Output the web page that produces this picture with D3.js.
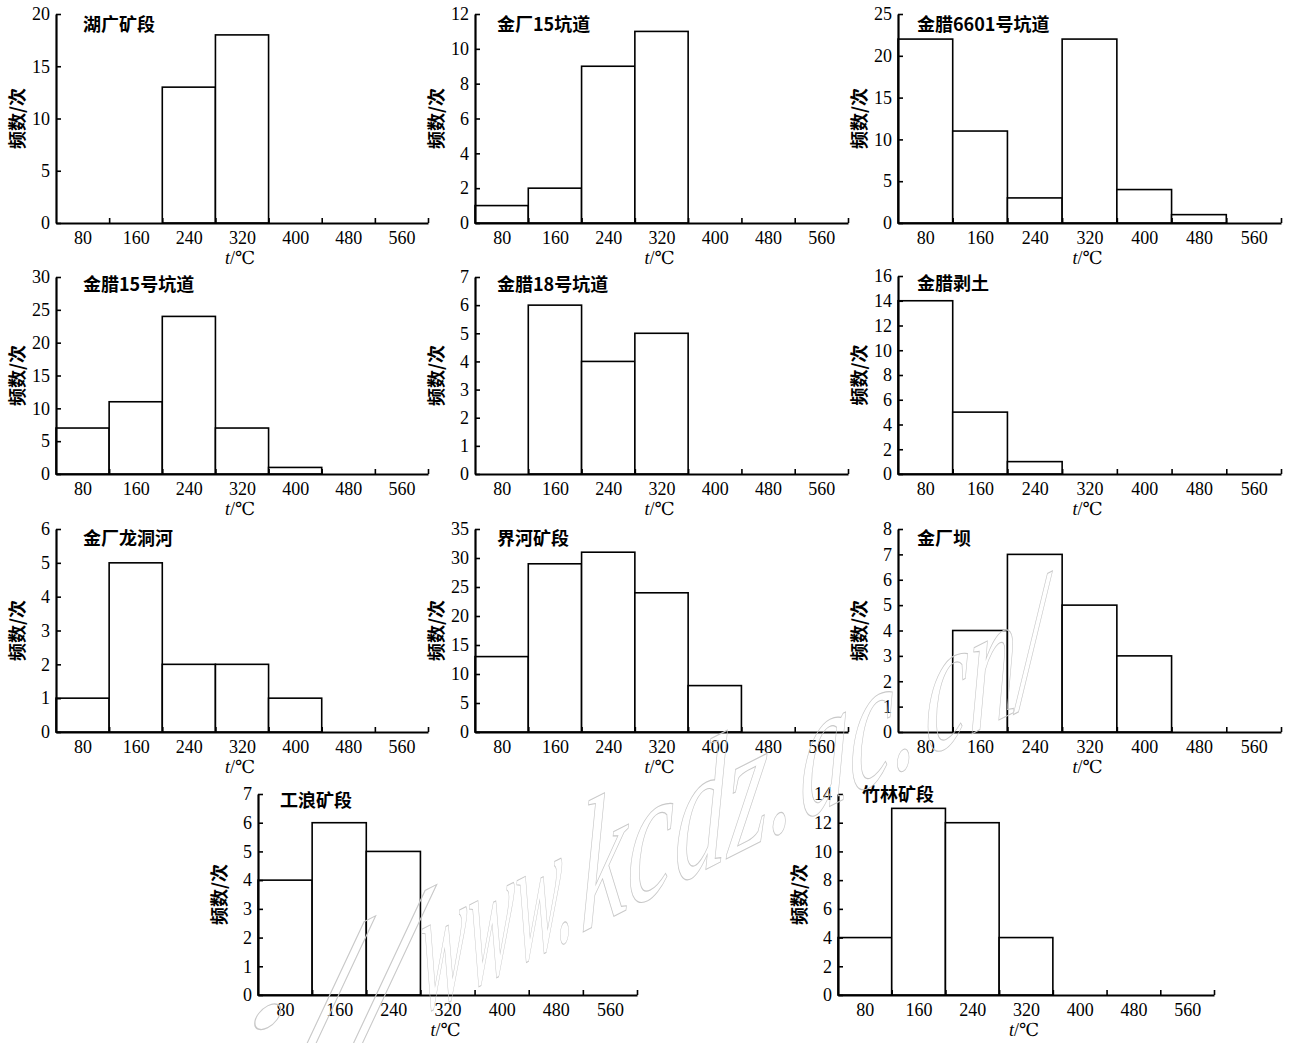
<!DOCTYPE html>
<html>
<head>
<meta charset="utf-8">
<script src="https://cdn.jsdelivr.net/npm/d3@7/dist/d3.min.js"></script>
<style>
  html, body { margin: 0; padding: 0; background: #fff; }
  svg { display: block; }
  .serif, .tick text { font-family: "Liberation Serif", "Times New Roman", "DejaVu Serif", "Noto Serif", serif !important; }
  .tick text { font-size: 18px !important; fill: #000; }
  .cjk { font-family: "Noto Sans CJK SC", "Noto Sans", sans-serif; font-weight: bold; }
</style>
</head>
<body>
<svg id="chart" width="1291" height="1043"></svg>
<script>
// ---------- data ----------
const binLabels = [80, 160, 240, 320, 400, 480, 560];   // bin centres (°C), bins 80 wide
const titles = ["湖广矿段", "金厂15坑道", "金腊6601号坑道", "金腊15号坑道", "金腊18号坑道",
                "金腊剥土", "金厂龙洞河", "界河矿段", "金厂坝", "工浪矿段", "竹林矿段"];
const yMaxes = [20, 12, 25, 30, 7, 16, 6, 35, 8, 7, 14];
const ySteps = [5, 2, 5, 5, 1, 2, 1, 5, 1, 1, 2];

const huguang     = [0, 0, 13, 18, 0, 0, 0];
const jinchang15  = [1, 2, 9, 11, 0, 0, 0];
const jinla6601   = [22, 11, 3, 22, 4, 1, 0];
const jinla15     = [7, 11, 24, 7, 1, 0, 0];
const jinla18     = [0, 6, 4, 5, 0, 0, 0];
const jinlaBotu   = [14, 5, 1, 0, 0, 0, 0];
const longdonghe  = [1, 5, 2, 2, 1, 0, 0];
const jiehe       = [13, 29, 31, 24, 8, 0, 0];
const jinchangba  = [0, 4, 7, 5, 3, 0, 0];
const gonglang    = [4, 6, 5, 0, 0, 0, 0];
const zhulin      = [4, 13, 12, 4, 0, 0, 0];
const seriesList = [huguang, jinchang15, jinla6601, jinla15, jinla18, jinlaBotu,
                    longdonghe, jiehe, jinchangba, gonglang, zhulin];

// watermark text pieces
const watermarkParts = ["://", "www.", "kcdz.", "ac.", "cn/"];

// ---------- layout (pixel frames of each panel) ----------
const frames = [
  {x0: 56,  x1: 428,  top: 14,  bottom: 223, td: 17},
  {x0: 475, x1: 848,  top: 14,  bottom: 223, td: 17},
  {x0: 898, x1: 1281, top: 14,  bottom: 223, td: 17},
  {x0: 56,  x1: 428,  top: 277, bottom: 474, td: 14},
  {x0: 475, x1: 848,  top: 277, bottom: 474, td: 14},
  {x0: 898, x1: 1281, top: 276, bottom: 474, td: 14},
  {x0: 56,  x1: 428,  top: 529, bottom: 732, td: 16},
  {x0: 475, x1: 848,  top: 529, bottom: 732, td: 16},
  {x0: 898, x1: 1281, top: 529, bottom: 732, td: 16},
  {x0: 258, x1: 637,  top: 794, bottom: 995, td: 13},
  {x0: 838, x1: 1214, top: 794, bottom: 995, td: 7}
];
const titleDx = [27, 22, 19, 27, 22, 19, 27, 22, 19, 22, 24];
const wmSpans = [[225, 195], [420, 155], [580, 215], [800, 118], [925, 120]];

const svg = d3.select("#chart");

seriesList.forEach((vals, i) => {
  const f = frames[i];
  const g = svg.append("g");
  const x = d3.scaleLinear().domain([40, 600]).range([f.x0, f.x1]);
  const y = d3.scaleLinear().domain([0, yMaxes[i]]).range([f.bottom, f.top]);

  // bars
  g.selectAll("rect").data(binLabels.map((c, j) => ({c, v: vals[j]})).filter(d => d.v > 0))
    .enter().append("rect")
    .attr("x", d => x(d.c - 40))
    .attr("width", d => x(d.c + 40) - x(d.c - 40))
    .attr("y", d => y(d.v))
    .attr("height", d => y(0) - y(d.v))
    .attr("fill", "#fff").attr("stroke", "#000").attr("stroke-width", 1.6);

  // x boundary ticks (inward)
  const xTicks = g.append("g").attr("transform", `translate(0,${f.bottom})`)
    .call(d3.axisBottom(x).tickValues([120, 200, 280, 360, 440, 520, 600])
      .tickSizeInner(-5).tickSizeOuter(0).tickFormat(""));
  xTicks.selectAll("path").attr("stroke-width", 2.2).attr("stroke", "#000");
  xTicks.selectAll("line").attr("stroke-width", 1.6).attr("stroke", "#000");

  // x labels centred in bins
  const xLab = g.append("g").attr("transform", `translate(0,${f.bottom})`)
    .call(d3.axisBottom(x).tickValues(binLabels).tickSize(0).tickPadding(8).tickFormat(d3.format("d")));
  xLab.select(".domain").remove();

  // y axis
  const yAx = g.append("g").attr("transform", `translate(${f.x0},0)`)
    .call(d3.axisLeft(y).tickValues(d3.range(0, yMaxes[i] + 0.001, ySteps[i]))
      .tickSizeInner(-5).tickSizeOuter(0).tickPadding(6).tickFormat(d3.format("d")));
  yAx.selectAll("path").attr("stroke-width", 2.2).attr("stroke", "#000");
  yAx.selectAll("line").attr("stroke-width", 1.6).attr("stroke", "#000");

  // x title
  const xt = g.append("text")
    .attr("class", "serif")
    .attr("x", (f.x0 + f.x1) / 2 - 2).attr("y", f.bottom + 41)
    .attr("text-anchor", "middle")
    .attr("font-size", 18);
  xt.append("tspan").attr("font-style", "italic").text("t");
  xt.append("tspan").text("/℃");

  // y title
  g.append("text")
    .attr("class", "cjk")
    .attr("transform", `translate(${f.x0 - 32},${(f.top + f.bottom) / 2}) rotate(-90)`)
    .attr("text-anchor", "middle")
    .attr("font-size", 18)
    .text("频数/次");

  // panel title
  g.append("text")
    .attr("class", "cjk")
    .attr("x", f.x0 + titleDx[i]).attr("y", f.top + f.td)
    .attr("font-size", 18)
    .text(titles[i]);
});

// ---------- watermark (skewed outline text, drawn on top) ----------
const wm = svg.append("g").attr("transform", "translate(0,1229) skewY(-27)");
watermarkParts.forEach((t, j) => {
  wm.append("text")
    .attr("class", "serif")
    .attr("x", wmSpans[j][0]).attr("y", 0)
    .attr("textLength", wmSpans[j][1]).attr("lengthAdjust", "spacingAndGlyphs")
    .attr("font-style", "italic")
    .attr("font-size", 185)
    .attr("fill", "none")
    .attr("stroke", "#c8c8c8")
    .attr("stroke-width", 1.1)
    .text(t);
});
</script>
</body>
</html>
